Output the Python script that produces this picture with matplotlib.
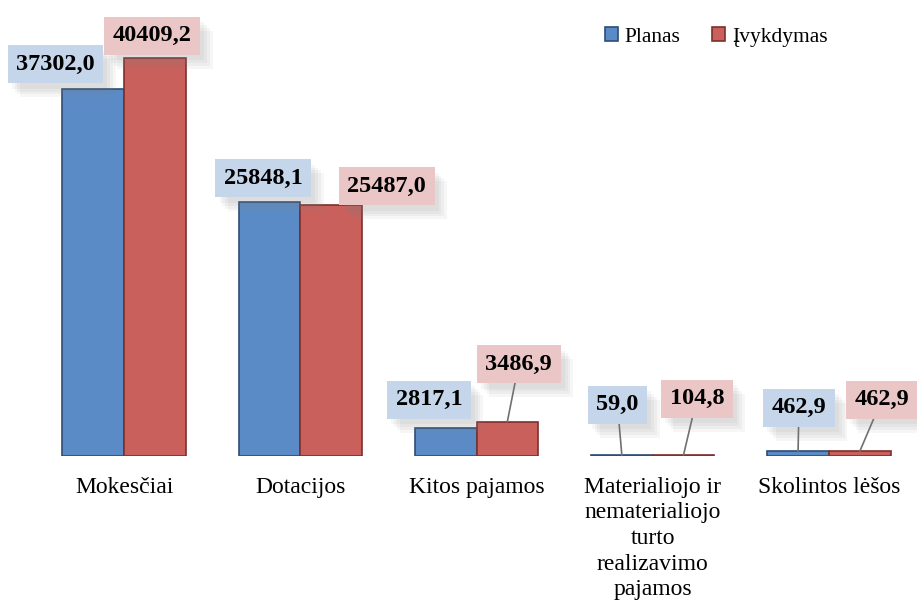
import matplotlib.pyplot as plt
import matplotlib.patheffects as pe
import numpy as np

categories = ["Mokesčiai", "Dotacijos", "Kitos pajamos",
              "Materialiojo ir\nnematerialiojo\nturto\nrealizavimo\npajamos",
              "Skolintos lėšos"]
planas = [37302.0, 25848.1, 2817.1, 59.0, 462.9]
ivykdymas = [40409.2, 25487.0, 3486.9, 104.8, 462.9]

# label text positions (data coords) and whether a leader line is drawn
planas_lbl_pos = [(-0.39, 39800), (0.79, 28200), (1.73, 5700), (2.80, 5200), (3.83, 4900)]
ivyk_lbl_pos = [(0.16, 42700), (1.49, 27400), (2.24, 9350), (3.25, 5800), (4.30, 5700)]
planas_leader = [False, False, False, True, True]
ivyk_leader = [False, False, True, True, True]


def fmt(v):
    return f"{v:.1f}".replace(".", ",")


plt.rcParams['font.family'] = ['Liberation Serif', 'DejaVu Serif']

fig = plt.figure(figsize=(9.17, 6.04), dpi=100)
ax = fig.add_axes([36 / 917, 148 / 604, 881 / 917, 443 / 604])

x = np.arange(len(categories))
w = 0.35
blue_face, blue_edge = '#5B8BC7', '#2E4D75'
red_face, red_edge = '#C9605C', '#7E2F2D'
ax.bar(x - w / 2, planas, w, color=blue_face, edgecolor=blue_edge, linewidth=1.2, label='Planas')
ax.bar(x + w / 2, ivykdymas, w, color=red_face, edgecolor=red_edge, linewidth=1.2, label='Įvykdymas')

ax.set_xlim(-0.5, len(categories) - 0.5)
ax.set_ylim(0, 45000)
ax.set_yticks([])
ax.set_xticks(x)
ax.set_xticklabels(categories, fontsize=17, linespacing=1.29, va='top')
ax.tick_params(axis='x', length=0, pad=15)
for s in ax.spines.values():
    s.set_visible(False)

# soft shadow behind the label boxes
shadow = [pe.SimplePatchShadow(offset=(o, -o - 1), shadow_rgbFace='#808080', alpha=0.07)
          for o in (3, 5, 7, 9)] + [pe.Normal()]


def add_labels(vals, offs, positions, leaders, box_color):
    for i, v in enumerate(vals):
        tx, ty = positions[i]
        bar_x = x[i] + offs
        props = dict(arrowstyle='-', color='#707070', lw=1.2, shrinkA=0, shrinkB=0) if leaders[i] else None
        ann = ax.annotate(fmt(v), xy=(bar_x, v), xytext=(tx, ty),
                          ha='center', va='center', fontsize=17.5, fontweight='bold',
                          bbox=dict(boxstyle='square,pad=0.35', fc=box_color, ec='none'),
                          arrowprops=props, zorder=5)
        ann.get_bbox_patch().set_path_effects(shadow)


add_labels(planas, -w / 2, planas_lbl_pos, planas_leader, '#C5D5EA')
add_labels(ivykdymas, w / 2, ivyk_lbl_pos, ivyk_leader, '#EAC6C6')

ax.legend(loc='center', bbox_to_anchor=(0.772, 0.946), ncol=2, frameon=False,
          fontsize=15.5, handlelength=0.6, handleheight=0.6, handletextpad=0.3, columnspacing=1.5)

fig.savefig('out.png', dpi=100)
